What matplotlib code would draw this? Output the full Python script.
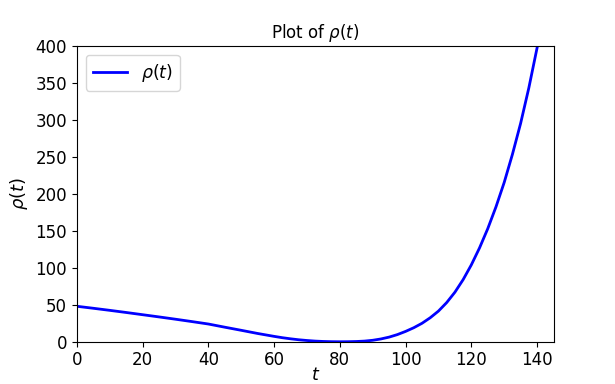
import matplotlib
matplotlib.use("Agg")
import matplotlib.pyplot as plt

# values
t = [0, 5, 10, 15, 20, 25, 30, 35, 40, 45, 50, 55, 60, 62.5, 65, 67.5,
     70, 72.5, 75, 77.5, 80, 82.5, 85, 87.5, 90, 92.5, 95, 97.5, 100,
     102.5, 105, 107.5, 110, 112.5, 115, 117.5, 120, 122.5, 125, 127.5,
     130, 132.5, 135, 137.5, 140, 141]
rho = [48, 45.3, 42.5, 39.6, 36.6, 33.6, 30.5, 27.3, 24, 19.7, 15.5, 11.2,
       7.3, 5.5, 4.0, 2.7, 1.7, 0.9, 0.4, 0.1, 0, 0.08, 0.35, 0.9, 2.0,
       3.8, 6.3, 9.7, 14, 19, 25, 32.5, 41.5, 53, 67, 84, 104, 127, 153,
       182.5, 215.5, 253.5, 295.5, 343.5, 397.5, 420]

fig, ax = plt.subplots(figsize=(6.15, 3.84), dpi=100)
ax.plot(t, rho, color="blue", lw=2, label=r"$\rho(t)$")

ax.set_xlim(0, 145)
ax.set_ylim(0, 400)
ax.set_title(r"Plot of $\rho(t)$", fontsize=12)
ax.set_xlabel(r"$t$", fontsize=12.5, labelpad=-2.5)
ax.set_ylabel(r"$\rho(t)$", fontsize=13)
ax.tick_params(labelsize=12)
ax.legend(loc="upper left", fontsize=12.5)

fig.savefig("out.png", dpi=100)
